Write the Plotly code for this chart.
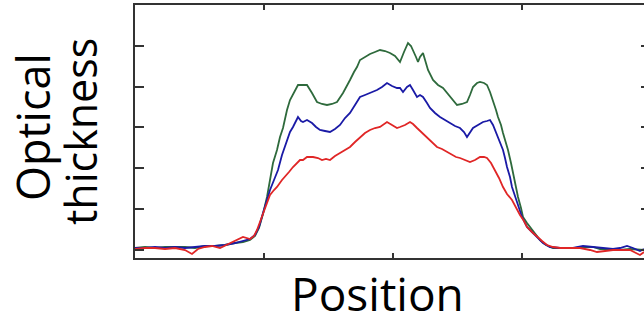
import plotly.graph_objects as go

# Position (arbitrary units) and optical thickness (arbitrary units)
green_x = [0, 10, 20, 30, 40, 50, 60, 70, 80, 90,
           100, 108, 115, 120, 124, 128, 132, 135, 138, 142,
           145, 148, 152, 155, 158, 163, 168, 172, 177, 182,
           187, 192, 197, 202, 208, 212, 215, 219, 222, 225,
           230, 235, 240, 245, 250, 255, 260, 265, 269, 273,
           276, 278, 281, 283, 285, 288, 291, 293, 298, 303,
           308, 312, 315, 319, 322, 327, 332, 335, 338, 342,
           345, 349, 352, 355, 358, 361, 363, 366, 368, 371,
           373, 376, 378, 381, 383, 386, 388, 392, 395, 400,
           405, 411, 418, 425, 432, 440, 450, 458, 465, 472,
           478, 485, 495, 509]
green_y = [2, 3, 2, 3, 3, 3, 2, 4, 4, 5,
           7, 8, 10, 14, 22, 36, 53, 70, 87, 100,
           113, 122, 140, 150, 156, 165, 165, 165, 157, 148,
           146, 145, 146, 148, 157, 164, 170, 178, 183, 190,
           193, 196, 198, 200, 199, 197, 194, 188, 198, 207,
           204, 200, 193, 188, 193, 197, 188, 180, 170, 165,
           162, 157, 153, 148, 145, 146, 148, 155, 163, 167,
           168, 167, 165, 158, 150, 140, 133, 125, 117, 108,
           100, 87, 77, 64, 53, 42, 33, 27, 23, 16,
           10, 5, 2, 2, 2, 2, 3, 3, 1, 1,
           0, 0, 1, 0]

blue_x = [0, 10, 20, 30, 40, 50, 60, 70, 80, 90,
          100, 108, 115, 120, 124, 128, 132, 135, 139, 143,
          147, 152, 155, 158, 161, 163, 166, 168, 172, 177,
          181, 185, 190, 195, 200, 205, 210, 215, 220, 225,
          230, 235, 239, 242, 247, 252, 257, 262, 265, 268,
          272, 275, 278, 282, 285, 288, 292, 295, 300, 305,
          310, 315, 320, 325, 329, 332, 335, 338, 343, 348,
          352, 355, 358, 360, 363, 365, 368, 370, 372, 375,
          377, 380, 382, 385, 387, 390, 392, 397, 402, 408,
          415, 425, 438, 448, 458, 468, 478, 485, 492, 498,
          505, 509]
blue_y = [2, 2, 3, 2, 3, 2, 3, 4, 4, 5,
          7, 9, 11, 15, 23, 37, 50, 60, 70, 80,
          95, 110, 118, 123, 130, 133, 129, 128, 130, 127,
          123, 120, 119, 118, 121, 125, 132, 137, 145, 153,
          155, 157, 158, 160, 163, 167, 164, 162, 162, 158,
          163, 165, 160, 153, 155, 153, 147, 142, 137, 133,
          130, 127, 124, 122, 118, 113, 118, 122, 125, 128,
          129, 130, 125, 120, 113, 107, 100, 92, 83, 73,
          63, 54, 47, 39, 33, 27, 23, 18, 13, 7,
          3, 2, 2, 4, 3, 2, 1, 2, 4, 2,
          -1, 1]

red_x = [0, 10, 20, 30, 40, 50, 57, 63, 70, 77,
         85, 93, 100, 108, 115, 119, 122, 125, 128, 132,
         135, 139, 142, 147, 150, 154, 158, 162, 165, 168,
         172, 178, 183, 187, 191, 195, 200, 205, 210, 215,
         220, 225, 230, 235, 240, 245, 250, 252, 257, 262,
         265, 270, 275, 278, 282, 285, 288, 292, 295, 298,
         302, 307, 312, 317, 321, 325, 330, 335, 340, 345,
         349, 352, 356, 360, 364, 368, 372, 377, 381, 385,
         389, 392, 397, 402, 407, 412, 418, 425, 435, 445,
         455, 462, 470, 478, 487, 495, 501, 505, 509]
red_y = [1, 2, 2, 1, 2, 0, -4, 1, 3, 4,
         2, 6, 9, 13, 11, 14, 20, 28, 37, 48,
         55, 60, 63, 70, 73, 78, 83, 87, 90, 90,
         93, 93, 92, 90, 91, 90, 94, 97, 100, 103,
         108, 113, 117, 120, 122, 123, 126, 128, 125, 122,
         123, 125, 128, 126, 122, 119, 117, 113, 110, 107,
         103, 101, 98, 95, 93, 92, 90, 88, 90, 93,
         93, 92, 87, 80, 72, 63, 56, 50, 42, 35,
         29, 23, 18, 13, 9, 5, 3, 2, 2, 2,
         0, -2, -1, 0, 0, 0, -3, -5, -2]

x_ticks = [129, 258, 387]
y_ticks = [0, 41, 82, 123, 163, 204]

W, H = 644, 326
ML, MR, MT, MB = 135, 0, 5, 68
FRAME = "#333333"
FONT = "Open Sans"

fig = go.Figure()
fig.add_trace(go.Scatter(x=green_x, y=green_y, mode="lines",
                         line=dict(color="#2e6a3c", width=1.8), hoverinfo="skip"))
fig.add_trace(go.Scatter(x=blue_x, y=blue_y, mode="lines",
                         line=dict(color="#1a1aa6", width=1.8), hoverinfo="skip"))
fig.add_trace(go.Scatter(x=red_x, y=red_y, mode="lines", yaxis="y2",
                         line=dict(color="#e02626", width=1.8), hoverinfo="skip"))

xr = [0, 509]
yr = [-8, 245]

fig.update_layout(
    width=W, height=H,
    margin=dict(l=ML, r=MR, t=MT, b=MB, pad=0),
    paper_bgcolor="white", plot_bgcolor="white",
    showlegend=False,
    xaxis=dict(range=xr, showgrid=False, zeroline=False, showticklabels=False,
               showline=True, linecolor=FRAME, linewidth=2, mirror="ticks",
               ticks="inside", ticklen=5, tickwidth=2, tickcolor=FRAME,
               tickvals=x_ticks),
    yaxis=dict(range=yr, showgrid=False, zeroline=False, showticklabels=False,
               showline=True, linecolor=FRAME, linewidth=2, mirror=False,
               ticks="inside", ticklen=9, tickwidth=2, tickcolor=FRAME,
               tickvals=y_ticks),
    yaxis2=dict(range=yr, overlaying="y", side="right", showgrid=False,
                zeroline=False, showticklabels=False, showline=False,
                ticks="inside", ticklen=3, tickwidth=2, tickcolor=FRAME,
                tickvals=y_ticks),
)

pw = W - ML - MR
ph = H - MT - MB

def px_x(p):
    return (p - ML) / pw

def px_y(p):
    return (H - MB - p) / ph

fig.add_annotation(text="Position", xref="paper", yref="paper",
                   x=px_x(377), y=px_y(293), xanchor="center", yanchor="middle",
                   showarrow=False, font=dict(family=FONT, size=46, color="black"))
fig.add_annotation(text="Optical", xref="paper", yref="paper",
                   x=px_x(32), y=px_y(127), xanchor="center", yanchor="middle",
                   textangle=-90, showarrow=False,
                   font=dict(family=FONT, size=45, color="black"))
fig.add_annotation(text="thickness", xref="paper", yref="paper",
                   x=px_x(80), y=px_y(132), xanchor="center", yanchor="middle",
                   textangle=-90, showarrow=False,
                   font=dict(family=FONT, size=43, color="black"))

fig.write_html("out.html")
